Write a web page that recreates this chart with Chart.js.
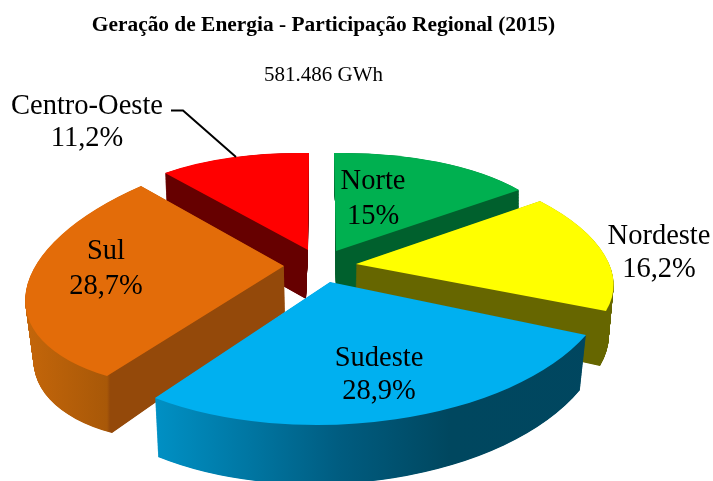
<!DOCTYPE html>
<html><head><meta charset="utf-8">
<style>html,body{margin:0;padding:0;background:#fff}#w{width:713px;height:481px;position:relative}</style>
<script src="https://cdn.jsdelivr.net/npm/chart.js@4/dist/chart.umd.min.js"></script>
</head><body><div id="w"><canvas id="c" width="713" height="481"></canvas></div>
<script>
const categories = ['Norte','Nordeste','Sudeste','Sul','Centro-Oeste'];
const shares = [15,16.2,28.9,28.7,11.2];
const topColors = ['#00B050','#FFFF00','#00B0F0','#E36C09','#FF0000'];
const titleText = 'Geração de Energia - Participação Regional (2015)';
const subtitleText = '581.486 GWh';
// 3D projection of each exploded slice: [hub, first rim corner, last rim corner] for top and bottom faces
const topFaces = [
 [[336,251],[334,153],[519,190]],
 [[356,264],[540,201],[606,311]],
 [[330,282],[586,335],[155,398]],
 [[284,266],[107,376],[141,186]],
 [[308,250],[165,173],[309,153]]];
const bottomFaces = [
 [[336,298],[336,198],[519,232]],
 [[355,312],[540,245],[600,366]],
 [[330,336],[580,390],[158,457]],
 [[285,312],[112,433],[147,236]],
 [[306,299],[167,221],[306,200]]];
const wallShades = [
 [[0,'#00602D'],[713,'#00602D']],
 [[0,'#666600'],[713,'#666600']],
 [[156,'#0090C4'],[250,'#0076A2'],[340,'#005C80'],[450,'#00475F'],[713,'#004660']],
 [[26,'#C4660A'],[107,'#A85808'],[110,'#94490A'],[713,'#94490A']],
 [[0,'#660000'],[713,'#660000']]];
const paintOrder = [0,4,1,3,2];
const labelAnchors = [[373,182,217],[659,237,270],[379,359,392],[106,252,287],[87,107,139]];
const leader = [[171,110.5],[183,110.5],[236,157]];
const labelFont = '28.5px "Liberation Serif"';

function frameMatrix(arc, face){
  const t1 = arc.startAngle + Math.PI/2, t2 = arc.endAngle + Math.PI/2;
  const s1=Math.sin(t1), c1=Math.cos(t1), s2=Math.sin(t2), c2=Math.cos(t2), det=s1*c2-c1*s2;
  const u=[face[1][0]-face[0][0],face[1][1]-face[0][1]], v=[face[2][0]-face[0][0],face[2][1]-face[0][1]];
  const A=[(u[0]*c2-v[0]*c1)/det,(u[1]*c2-v[1]*c1)/det];
  const B=[(s1*v[0]-s2*u[0])/det,(s1*v[1]-s2*u[1])/det];
  const r=arc.outerRadius;
  return [A[0]/r,A[1]/r,-B[0]/r,-B[1]/r,face[0][0],face[0][1]];
}
function mix(f,g,t){return f.map((p,i)=>[p[0]+(g[i][0]-p[0])*t,p[1]+(g[i][1]-p[1])*t]);}
function paintArc(ctx, arc, face, fill){
  ctx.save();
  ctx.transform(...frameMatrix(arc,face));
  ctx.translate(-arc.x,-arc.y);
  const clone=Object.create(arc);
  clone.options=Object.assign({},arc.options,{backgroundColor:fill,borderWidth:0,borderColor:'transparent'});
  // fill in page space so a wall gradient follows page x
  const native=ctx.fill;
  ctx.fill=function(){const m=ctx.getTransform();ctx.setTransform(1,0,0,1,0,0);native.apply(ctx,arguments);ctx.setTransform(m);};
  clone.draw(ctx);
  delete ctx.fill;
  ctx.restore();
}
const pie3d = {
  id:'pie3d',
  beforeDatasetDraw(chart){
    const ctx=chart.ctx, arcs=chart.getDatasetMeta(0).data;
    paintOrder.forEach(i=>{
      const g=ctx.createLinearGradient(0,0,713,0);
      wallShades[i].forEach(s=>g.addColorStop(s[0]/713,s[1]));
      const steps=140;
      for(let k=0;k<steps;k++) paintArc(ctx,arcs[i],mix(bottomFaces[i],topFaces[i],k/steps),g);
      paintArc(ctx,arcs[i],topFaces[i],topColors[i]);
    });
    return false;
  },
  afterDatasetsDraw(chart){
    const ctx=chart.ctx;
    ctx.save();
    ctx.strokeStyle='#000';ctx.lineWidth=2;ctx.beginPath();
    leader.forEach((p,i)=>i?ctx.lineTo(p[0],p[1]):ctx.moveTo(p[0],p[1]));ctx.stroke();
    ctx.fillStyle='#000';ctx.font=labelFont;ctx.textAlign='center';ctx.textBaseline='middle';
    categories.forEach((c,i)=>{
      const a=labelAnchors[i];
      ctx.fillText(c,a[0],a[1]);
      ctx.fillText(String(shares[i]).replace('.',',')+'%',a[0],a[2]);
    });
    ctx.restore();
  }
};
new Chart(document.getElementById('c'),{
  type:'pie',
  data:{labels:categories,datasets:[{data:shares,backgroundColor:topColors,borderWidth:0}]},
  options:{
    responsive:false,animation:false,
    layout:{padding:{right:66}},
    plugins:{
      legend:{display:false},tooltip:{enabled:false},
      title:{display:true,text:titleText,color:'#000',font:{family:'"Liberation Serif"',size:21.4,weight:'bold'},padding:{top:13,bottom:0}},
      subtitle:{display:true,text:subtitleText,color:'#000',font:{family:'"Liberation Serif"',size:21,weight:'normal'},padding:{top:24,bottom:0}}
    }
  },
  plugins:[pie3d]
});
</script></body></html>
